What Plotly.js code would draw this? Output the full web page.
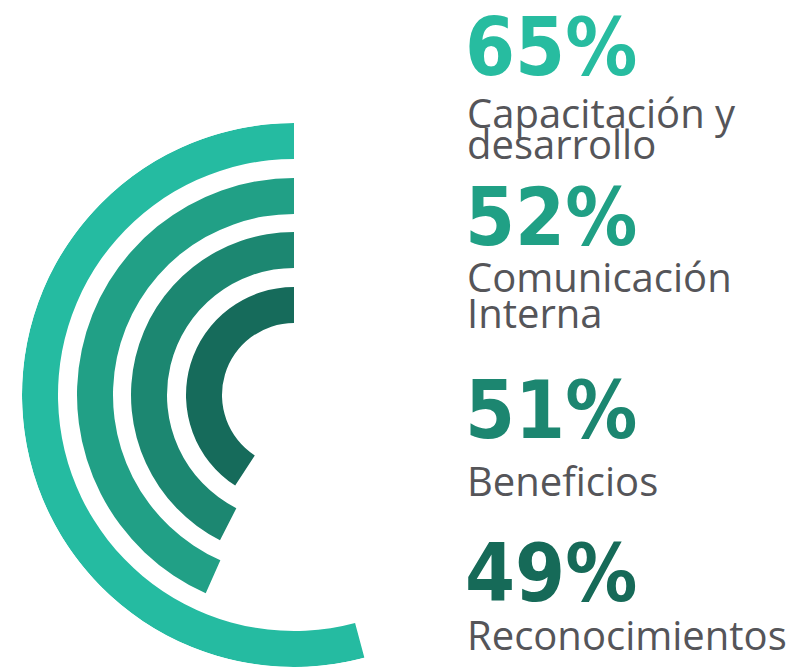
<!DOCTYPE html>
<html>
<head>
<meta charset="utf-8">
<script src="https://cdn.plot.ly/plotly-3.0.1.min.js"></script>
<style>html,body{margin:0;padding:0;background:#fff;}#chart{width:798px;height:669px;}</style>
</head>
<body>
<div id="chart"></div>
<script>
// ---- data ----
const categories = ['Capacitación y desarrollo', 'Comunicación Interna', 'Beneficios', 'Reconocimientos'];
const values = [65, 52, 51, 49];
const labelLines = [['Capacitación y', 'desarrollo'], ['Comunicación', 'Interna'], ['Beneficios'], ['Reconocimientos']];

// ---- styles / layout ----
const barColors = ['#25BBA1', '#21A086', '#1C8771', '#166B5B'];
const pctColors = ['#27BCA0', '#20A085', '#1C8670', '#166A58'];
const labelColor = '#555559';
const ringBase = [236, 181, 127, 72];
const ringThick = 36;
const DEG_PER_PCT = 3; // 100% = 300 degrees

const W = 798, H = 669;
const cx = 294, cy = 395, R = 272;
const py = p => 1 - p / H;
const px = p => p / W;

const trace = {
  type: 'barpolar',
  r: values.map(() => ringThick),
  base: ringBase,
  theta: values.map(v => v * DEG_PER_PCT / 2),
  width: values.map(v => v * DEG_PER_PCT),
  text: categories,
  marker: {color: barColors, line: {width: 0}},
  hoverinfo: 'text',
  showlegend: false
};

// text positions (pixel centres)
const pctY = [47, 218, 410, 573];
const labelY = [[112, 144], [277, 312], [480], [634]];
const annotations = [];
values.forEach((v, i) => {
  annotations.push({
    xref: 'paper', yref: 'paper', x: px(463), y: py(pctY[i]),
    xanchor: 'left', yanchor: 'middle', showarrow: false,
    text: '<b>' + v + '%</b>',
    font: {family: '"Liberation Sans Narrow", "Arial Narrow", "DejaVu Sans Condensed", sans-serif', size: 80, color: pctColors[i]}
  });
  labelLines[i].forEach((t, j) => {
    annotations.push({
      xref: 'paper', yref: 'paper', x: px(465), y: py(labelY[i][j]),
      xanchor: 'left', yanchor: 'middle', showarrow: false,
      text: t,
      font: {family: '"Open Sans", sans-serif', size: 40, color: labelColor}
    });
  });
});

const layout = {
  width: W, height: H,
  margin: {l: 0, r: 0, t: 0, b: 0},
  paper_bgcolor: '#ffffff',
  showlegend: false,
  polar: {
    domain: {x: [px(cx - R), px(cx + R)], y: [py(cy + R), py(cy - R)]},
    bgcolor: 'rgba(0,0,0,0)',
    hole: 0,
    radialaxis: {visible: false, range: [0, R]},
    angularaxis: {visible: false, rotation: 90, direction: 'counterclockwise'}
  },
  annotations: annotations
};

Plotly.newPlot('chart', [trace], layout, {displayModeBar: false, staticPlot: true});
</script>
</body>
</html>
